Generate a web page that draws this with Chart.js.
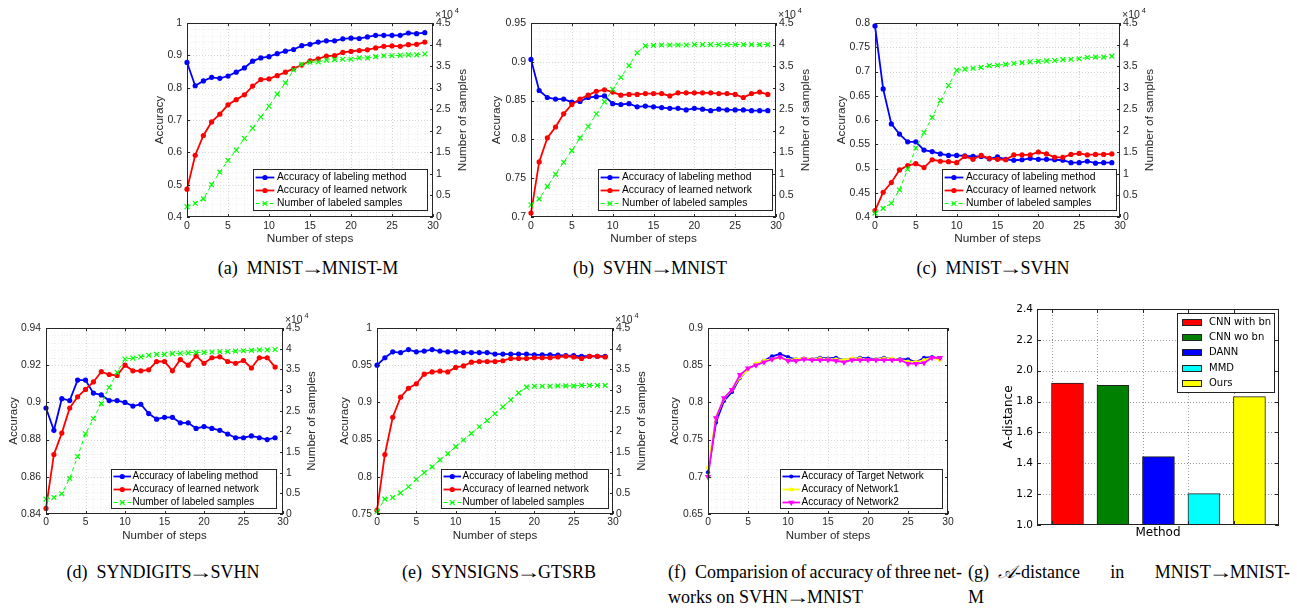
<!DOCTYPE html>
<html><head><meta charset="utf-8">
<script src="https://cdn.jsdelivr.net/npm/chart.js@4.4.1/dist/chart.umd.min.js"></script>
<style>
html,body{margin:0;padding:0;background:#fff;width:1297px;height:608px;overflow:hidden;position:relative}
canvas{position:absolute}
.cap{position:absolute;font-family:'Liberation Serif','Times New Roman',serif;font-size:18px;line-height:22px;color:#000;white-space:nowrap}
.ctr{width:300px;text-align:center}
.ar{display:inline-block;width:19px;text-align:center;transform:scaleX(1.35)}
.j{display:inline-block}
</style></head><body>
<div class="cap ctr" style="left:158px;top:257px">(a)&ensp;MNIST<span class="ar">→</span>MNIST-M</div>
<div class="cap ctr" style="left:500px;top:257px">(b)&ensp;SVHN<span class="ar">→</span>MNIST</div>
<div class="cap ctr" style="left:843px;top:257px">(c)&ensp;MNIST<span class="ar">→</span>SVHN</div>
<div class="cap ctr" style="left:13px;top:561px">(d)&ensp;SYNDIGITS<span class="ar">→</span>SVHN</div>
<div class="cap ctr" style="left:349px;top:561px">(e)&ensp;SYNSIGNS<span class="ar">→</span>GTSRB</div>
<div class="cap j" data-w="294" style="left:668px;top:561px">(f)&ensp;Comparision of accuracy of three net-</div>
<div class="cap" style="left:668px;top:586px">works on SVHN<span class="ar">→</span>MNIST</div>
<div class="cap j" data-w="322" style="left:968px;top:561px">(g)&ensp;<i>𝒜</i>-distance in MNIST<span class="ar">→</span>MNIST-</div>
<div class="cap" style="left:968px;top:586px">M</div>
<script>
// ---------------- data ----------------
const steps = [0,1,2,3,4,5,6,7,8,9,10,11,12,13,14,15,16,17,18,19,20,21,22,23,24,25,26,27,28,29];
const seriesLabels = ['Accuracy of labeling method','Accuracy of learned network','Number of labeled samples'];
const fLabels = ['Accuracy of Target Network','Accuracy of Network1','Accuracy of Network2'];

const aLabeling = [0.878,0.806,0.821,0.832,0.829,0.836,0.848,0.861,0.882,0.892,0.896,0.905,0.913,0.918,0.930,0.934,0.941,0.945,0.945,0.951,0.953,0.952,0.957,0.962,0.962,0.962,0.962,0.969,0.967,0.970];
const aLearned  = [0.486,0.591,0.652,0.694,0.718,0.747,0.763,0.778,0.805,0.825,0.827,0.837,0.848,0.859,0.870,0.883,0.889,0.898,0.899,0.909,0.912,0.915,0.917,0.923,0.928,0.929,0.928,0.933,0.934,0.941];
const aSamples  = [0.24,0.32,0.42,0.75,1.04,1.31,1.55,1.82,2.06,2.32,2.57,2.85,3.11,3.41,3.54,3.59,3.60,3.64,3.65,3.66,3.66,3.69,3.69,3.72,3.74,3.74,3.75,3.76,3.76,3.78];

const bLabeling = [0.903,0.863,0.854,0.852,0.852,0.848,0.849,0.854,0.855,0.856,0.846,0.845,0.846,0.842,0.843,0.842,0.841,0.840,0.840,0.838,0.840,0.839,0.837,0.839,0.838,0.838,0.838,0.837,0.837,0.837];
const bLearned  = [0.705,0.771,0.802,0.816,0.833,0.845,0.852,0.857,0.862,0.864,0.861,0.857,0.858,0.858,0.859,0.859,0.859,0.856,0.860,0.860,0.860,0.860,0.860,0.859,0.859,0.858,0.854,0.859,0.861,0.858];
const bSamples  = [0.28,0.42,0.71,0.99,1.27,1.54,1.83,2.10,2.39,2.67,2.96,3.24,3.51,3.81,3.97,3.98,3.99,3.99,3.99,3.99,4.00,4.00,4.00,4.00,4.00,4.00,4.00,4.00,4.00,4.00];

const cLabeling = [0.794,0.664,0.592,0.571,0.555,0.555,0.538,0.535,0.530,0.527,0.527,0.526,0.525,0.525,0.520,0.524,0.519,0.517,0.518,0.521,0.519,0.519,0.518,0.517,0.512,0.512,0.515,0.511,0.512,0.512];
const cLearned  = [0.413,0.451,0.471,0.497,0.506,0.510,0.502,0.518,0.515,0.514,0.512,0.525,0.519,0.527,0.521,0.519,0.518,0.528,0.528,0.528,0.534,0.530,0.523,0.523,0.529,0.531,0.528,0.529,0.529,0.530];
const cSamples  = [0.09,0.20,0.32,0.63,1.11,1.60,1.96,2.31,2.70,3.05,3.40,3.43,3.45,3.47,3.51,3.52,3.54,3.56,3.58,3.60,3.61,3.62,3.63,3.65,3.66,3.67,3.70,3.71,3.71,3.73];

const dLabeling = [0.897,0.885,0.902,0.901,0.912,0.912,0.905,0.904,0.901,0.901,0.900,0.898,0.899,0.894,0.891,0.892,0.892,0.889,0.889,0.886,0.887,0.886,0.885,0.883,0.881,0.881,0.882,0.881,0.880,0.881];
const dLearned  = [0.843,0.872,0.8835,0.897,0.903,0.907,0.911,0.9165,0.915,0.9145,0.920,0.917,0.917,0.9175,0.922,0.922,0.917,0.923,0.920,0.925,0.921,0.924,0.9245,0.922,0.921,0.9225,0.9185,0.924,0.924,0.919];
const dSamples  = [0.36,0.40,0.49,0.86,1.39,1.94,2.31,2.67,3.06,3.43,3.75,3.77,3.80,3.84,3.86,3.86,3.88,3.89,3.90,3.91,3.91,3.92,3.93,3.93,3.94,3.95,3.96,3.97,3.97,3.98];

const eLabeling = [0.950,0.960,0.968,0.967,0.971,0.968,0.969,0.971,0.969,0.968,0.968,0.967,0.967,0.967,0.967,0.965,0.965,0.965,0.965,0.965,0.964,0.964,0.964,0.9635,0.963,0.963,0.962,0.962,0.962,0.962];
const eLearned  = [0.755,0.830,0.880,0.907,0.919,0.925,0.938,0.941,0.942,0.941,0.947,0.949,0.954,0.955,0.955,0.955,0.956,0.959,0.959,0.959,0.960,0.960,0.960,0.961,0.962,0.961,0.959,0.962,0.962,0.961];
const eSamples  = [0.06,0.36,0.40,0.51,0.66,0.84,1.00,1.14,1.31,1.46,1.63,1.79,1.95,2.11,2.26,2.43,2.59,2.76,2.93,3.07,3.09,3.09,3.09,3.10,3.10,3.10,3.11,3.11,3.11,3.11];

const fTarget = [0.706,0.773,0.802,0.814,0.833,0.845,0.851,0.856,0.862,0.865,0.861,0.858,0.859,0.858,0.860,0.859,0.860,0.857,0.858,0.860,0.859,0.858,0.860,0.858,0.858,0.858,0.854,0.860,0.861,0.858];
const fNet1   = [0.712,0.780,0.805,0.817,0.834,0.844,0.852,0.856,0.858,0.860,0.857,0.858,0.859,0.858,0.859,0.858,0.858,0.857,0.859,0.859,0.857,0.858,0.859,0.859,0.857,0.855,0.854,0.857,0.860,0.857];
const fNet2   = [0.700,0.779,0.806,0.817,0.837,0.846,0.850,0.854,0.858,0.861,0.856,0.856,0.858,0.857,0.857,0.857,0.856,0.854,0.857,0.857,0.857,0.857,0.857,0.857,0.857,0.852,0.852,0.853,0.860,0.860];

const gMethods = ['CNN with bn','CNN wo bn','DANN','MMD','Ours'];
const gValues  = [1.920,1.905,1.443,1.203,1.832];
const gColors  = ['#ff0000','#008000','#0000ff','#00ffff','#ffff00'];

// ---------------- captions: fit justified first lines ----------------
function fitCaptions(){
  document.querySelectorAll('.j').forEach(el=>{
    el.style.wordSpacing = '0px';
    const target = +el.dataset.w;
    const nat = el.getBoundingClientRect().width;
    const n = (el.textContent.match(/ /g)||[]).length;
    if (n) el.style.wordSpacing = ((target-nat)/n)+'px';
  });
}
fitCaptions();
if (document.fonts && document.fonts.ready) document.fonts.ready.then(fitCaptions);

// ---------------- helpers ----------------
const SANS = "'Liberation Sans', Arial, Helvetica, sans-serif";
const DJV = "'DejaVu Sans', sans-serif";
const INK = '#262626';
const fmt = v => String(parseFloat(Number(v).toFixed(4)));

function mkCanvas(c){
  const el = document.createElement('canvas');
  el.width = c.w; el.height = c.h;
  el.style.left = c.l+'px'; el.style.top = c.t+'px';
  el.style.width = c.w+'px'; el.style.height = c.h+'px';
  document.body.appendChild(el);
  return el;
}
function seg(ctx,x1,y1,x2,y2){ctx.beginPath();ctx.moveTo(x1,y1);ctx.lineTo(x2,y2);ctx.stroke();}
function marker(ctx, ds, x, y){
  const r = ds.pointRadius, st = ds.pointStyle;
  ctx.save(); ctx.setLineDash([]); ctx.translate(x,y);
  ctx.rotate((ds.pointRotation||0)*Math.PI/180);
  ctx.fillStyle = ds.pointBackgroundColor; ctx.strokeStyle = ds.pointBorderColor;
  ctx.lineWidth = ds.pointBorderWidth || 1;
  ctx.beginPath();
  if (st==='circle'){ ctx.arc(0,0,r,0,Math.PI*2); ctx.fill(); }
  else if (st==='crossRot'){ const o=r*Math.SQRT1_2; ctx.moveTo(-o,-o);ctx.lineTo(o,o);ctx.moveTo(-o,o);ctx.lineTo(o,-o);ctx.stroke(); }
  else if (st==='triangle'){ for(let k=0;k<3;k++){const a=k*2*Math.PI/3; const px=Math.sin(a)*r, py=-Math.cos(a)*r; k?ctx.lineTo(px,py):ctx.moveTo(px,py);} ctx.closePath(); ctx.fill(); }
  ctx.restore();
}

const ST = {
  labeling:{color:'#0000ff',width:1.8,point:'circle',r:2.6},
  learned:{color:'#ff0000',width:1.8,point:'circle',r:2.6},
  samples:{color:'#00ff00',width:1,dash:[4,3],point:'crossRot',r:3.4,axis:'y2',pbw:1.2},
  target:{color:'#0000ff',width:1.8,point:'circle',r:2.1},
  net1:{color:'#ffff00',width:1.8,point:'circle',r:2.1},
  net2:{color:'#ff00ff',width:1.8,point:'triangle',rot:180,r:3.6}
};
function ds(label, values, s, n, i){
  return {label, data: values.map((v,k)=>({x:steps[k], y:v})),
    borderColor:s.color, backgroundColor:s.color, borderWidth:s.width, borderDash:s.dash||[],
    pointStyle:s.point, pointRadius:s.r, pointRotation:s.rot||0,
    pointBackgroundColor:s.color, pointBorderColor:s.color, pointBorderWidth:s.pbw||0,
    yAxisID:s.axis||'y', tension:0, fill:false, clip:false, order:n-i};
}

function makeDeco(P){
  return {
    id:'deco',
    beforeDatasetsDraw(chart){
      const {ctx, chartArea:a, scales} = chart;
      const xs = scales.x, ys = scales.y;
      ctx.save(); ctx.lineWidth = 1; ctx.setLineDash([1,2]);
      if (P.minor){
        ctx.strokeStyle = '#ececec';
        const nx = Math.round((xs.max-xs.min)/P.minor[0]);
        for(let i=1;i<nx;i++){const px=Math.round(xs.getPixelForValue(xs.min+i*P.minor[0]))+0.5; seg(ctx,px,a.top,px,a.bottom);}
        const ny = Math.round((ys.max-ys.min)/P.minor[1]);
        for(let i=1;i<ny;i++){const py=Math.round(ys.getPixelForValue(ys.min+i*P.minor[1]))+0.5; seg(ctx,a.left,py,a.right,py);}
      }
      ctx.strokeStyle = P.gridColor || '#d4d4d4';
      xs.ticks.forEach(t=>{const px=Math.round(xs.getPixelForValue(t.value))+0.5; if(px>a.left+1&&px<a.right-1) seg(ctx,px,a.top,px,a.bottom);});
      ys.ticks.forEach(t=>{const py=Math.round(ys.getPixelForValue(t.value))+0.5; if(py>a.top+1&&py<a.bottom-1) seg(ctx,a.left,py,a.right,py);});
      ctx.restore();
    },
    afterDraw(chart){
      const {ctx, chartArea:a, scales} = chart;
      const C = P.canvas;
      ctx.save(); ctx.setLineDash([]); ctx.lineWidth = 1; ctx.strokeStyle = P.axisColor || INK;
      ctx.strokeRect(a.left+0.5, a.top+0.5, a.right-a.left-1, a.bottom-a.top-1);
      const tl = P.tickLen || 3;
      scales.x.ticks.forEach(t=>{const px=Math.round(scales.x.getPixelForValue(t.value))+0.5; seg(ctx,px,a.bottom,px,a.bottom-tl); seg(ctx,px,a.top,px,a.top+tl);});
      scales.y.ticks.forEach(t=>{const py=Math.round(scales.y.getPixelForValue(t.value))+0.5; seg(ctx,a.left,py,a.left+tl,py); if(!scales.y2) seg(ctx,a.right,py,a.right-tl,py);});
      if (scales.y2) scales.y2.ticks.forEach(t=>{const py=Math.round(scales.y2.getPixelForValue(t.value))+0.5; seg(ctx,a.right,py,a.right-tl,py);});
      // exponent label and right title
      if (P.rightTitle){
        ctx.fillStyle = INK; ctx.textBaseline='middle'; ctx.textAlign='left';
        ctx.font = `${P.font.tick}px ${SANS}`;
        const ex = a.right+2, ey = a.top-8;
        ctx.fillText('×10', ex, ey);
        const w = ctx.measureText('×10').width;
        ctx.font = `${P.font.tick*0.72}px ${SANS}`;
        ctx.fillText('4', ex+w+2, ey-4);
        ctx.save(); ctx.translate(P.rightTitleX - C.l, (a.top+a.bottom)/2); ctx.rotate(-Math.PI/2);
        ctx.textAlign='center'; ctx.font = `${P.font.title}px ${SANS}`; ctx.fillText(P.rightTitle,0,0); ctx.restore();
      }
      // legend
      const L = P.legend;
      const lx = L.l - C.l, ly = L.t - C.t;
      ctx.fillStyle = '#fff'; ctx.fillRect(lx,ly,L.w,L.h);
      ctx.strokeStyle = INK; ctx.lineWidth=1; ctx.strokeRect(lx+0.5,ly+0.5,L.w-1,L.h-1);
      chart.data.datasets.forEach((d,i)=>{
        const y = Math.round(ly + L.y0 + i*L.dy)+0.5;
        ctx.strokeStyle = d.borderColor; ctx.lineWidth = d.borderWidth; ctx.setLineDash(d.borderDash||[]);
        seg(ctx, lx+L.sx, y, lx+L.sx+L.sl, y);
        marker(ctx, d, lx+L.sx+L.sl/2, y);
        ctx.fillStyle = '#000'; ctx.font = `${L.font}px ${SANS}`; ctx.textAlign='left'; ctx.textBaseline='middle';
        ctx.fillText(d.label, lx+L.tx, y);
      });
      ctx.restore();
    }
  };
}

function lineChart(P){
  const C = P.canvas, A = P.plot, F = P.font;
  const cv = mkCanvas(C);
  const lh = F.title*1.2;
  const tickFont = {family:SANS, size:F.tick};
  const titleFont = {family:SANS, size:F.title, lineHeight:1.2};
  const scales = {
    x:{type:'linear', min:0, max:30,
      ticks:{stepSize:5, padding:P.xPad, font:tickFont, color:INK, maxRotation:0, autoSkip:false, callback:fmt},
      grid:{display:false, drawTicks:false}, border:{display:false},
      title:{display:true, text:'Number of steps', font:titleFont, color:INK, padding:{top:0, bottom:C.t+C.h-P.xTitleY-lh/2}},
      afterFit:s=>{s.height = C.t+C.h-A.b;}},
    y:{type:'linear', position:'left', min:P.yr[0], max:P.yr[1],
      ticks:{stepSize:P.yr[2], padding:5, font:tickFont, color:INK, callback:fmt},
      grid:{display:false, drawTicks:false}, border:{display:false},
      title:{display:true, text:'Accuracy', font:titleFont, color:INK, padding:{top:P.yTitleX-C.l-lh/2, bottom:0}},
      afterFit:s=>{s.width = A.l-C.l;}}
  };
  if (P.rightTitle){
    scales.y2 = {type:'linear', position:'right', min:0, max:4.5,
      ticks:{stepSize:0.5, padding:3, font:tickFont, color:INK, callback:fmt},
      grid:{display:false, drawTicks:false}, border:{display:false},
      afterFit:s=>{s.width = C.l+C.w-A.r;}};
  }
  new Chart(cv, {
    type:'line',
    data:{datasets:P.datasets},
    options:{
      animation:false, responsive:false, devicePixelRatio:1, events:[],
      layout:{autoPadding:false, padding:{top:A.t-C.t, left:0, bottom:0, right:P.rightTitle?0:(C.l+C.w-A.r)}},
      plugins:{legend:{display:false}, tooltip:{enabled:false}},
      scales
    },
    plugins:[makeDeco(P)]
  });
}

function trio(lab, lrn, smp){
  return [ds(seriesLabels[0],lab,ST.labeling,3,0), ds(seriesLabels[1],lrn,ST.learned,3,1), ds(seriesLabels[2],smp,ST.samples,3,2)];
}
const F1 = {tick:10.5, title:11.8};
const F2 = {tick:10.3, title:11.5};
const L1 = {y0:7.7, dy:13.2, sx:2.6, sl:18.7, tx:24, font:10.3};
const L2 = {y0:6.5, dy:13.3, sx:2.5, sl:17.5, tx:21.5, font:10};

lineChart({canvas:{l:140,t:0,w:340,h:250}, plot:{l:187,t:23,r:433,b:217}, yr:[0.4,1,0.1], minor:[1,0.02],
  datasets:trio(aLabeling,aLearned,aSamples), font:F1, xPad:3, xTitleY:239, yTitleX:160, rightTitle:'Number of samples', rightTitleX:463,
  legend:Object.assign({l:253,t:169,w:175,h:42},L1)});
lineChart({canvas:{l:480,t:0,w:350,h:250}, plot:{l:531,t:23,r:776,b:217}, yr:[0.7,0.95,0.05], minor:[1,0.01],
  datasets:trio(bLabeling,bLearned,bSamples), font:F1, xPad:3, xTitleY:239, yTitleX:497, rightTitle:'Number of samples', rightTitleX:806,
  legend:Object.assign({l:598,t:169,w:175,h:42},L1)});
lineChart({canvas:{l:830,t:0,w:350,h:250}, plot:{l:875,t:23,r:1120,b:217}, yr:[0.4,0.8,0.05], minor:[1,0.01],
  datasets:trio(cLabeling,cLearned,cSamples), font:F1, xPad:3, xTitleY:239, yTitleX:842, rightTitle:'Number of samples', rightTitleX:1150,
  legend:Object.assign({l:942,t:169,w:175,h:42},L1)});
lineChart({canvas:{l:0,t:295,w:330,h:250}, plot:{l:46,t:328,r:283,b:514}, yr:[0.84,0.94,0.02], minor:[1,0.004],
  datasets:trio(dLabeling,dLearned,dSamples), font:F2, xPad:2, xTitleY:536, yTitleX:13.5, rightTitle:'Number of samples', rightTitleX:312,
  legend:Object.assign({l:111,t:469,w:166,h:40},L2)});
lineChart({canvas:{l:330,t:295,w:330,h:250}, plot:{l:377,t:328,r:613,b:514}, yr:[0.75,1,0.05], minor:[1,0.01],
  datasets:trio(eLabeling,eLearned,eSamples), font:F2, xPad:2, xTitleY:536, yTitleX:345, rightTitle:'Number of samples', rightTitleX:642,
  legend:Object.assign({l:441,t:469,w:168,h:40},L2)});
lineChart({canvas:{l:660,t:295,w:300,h:250}, plot:{l:708,t:328,r:948,b:514}, yr:[0.65,0.9,0.05], minor:[1,0.01],
  datasets:[ds(fLabels[0],fTarget,ST.target,3,0), ds(fLabels[1],fNet1,ST.net1,3,1), ds(fLabels[2],fNet2,ST.net2,3,2)],
  font:F2, xPad:2, xTitleY:536, yTitleX:675,
  legend:Object.assign({l:780,t:469,w:163,h:40},L2)});

// ---------------- panel g (bar chart) ----------------
(function(){
  const C = {l:960,t:295,w:337,h:250}, A = {l:1037,t:309,r:1279,b:525};
  const cv = mkCanvas(C);
  const lh = 12*1.2;
  const deco = {
    id:'gdeco',
    beforeDatasetsDraw(chart){
      const {ctx, chartArea:a, scales} = chart;
      ctx.save(); ctx.lineWidth=1; ctx.setLineDash([1,2]); ctx.strokeStyle='#9a9a9a';
      scales.x.ticks.forEach(t=>{const px=Math.round(scales.x.getPixelForValue(t.value))+0.5; seg(ctx,px,a.top,px,a.bottom);});
      scales.y.ticks.forEach(t=>{const py=Math.round(scales.y.getPixelForValue(t.value))+0.5; if(py>a.top+1&&py<a.bottom-1) seg(ctx,a.left,py,a.right,py);});
      ctx.restore();
    },
    afterDraw(chart){
      const {ctx, chartArea:a, scales} = chart;
      ctx.save(); ctx.setLineDash([]); ctx.lineWidth=1; ctx.strokeStyle='#222';
      ctx.strokeRect(a.left+0.5,a.top+0.5,a.right-a.left-1,a.bottom-a.top-1);
      scales.y.ticks.forEach(t=>{const py=Math.round(scales.y.getPixelForValue(t.value))+0.5; seg(ctx,a.left,py,a.left+4,py); seg(ctx,a.right,py,a.right-4,py);});
      scales.x.ticks.forEach(t=>{const px=Math.round(scales.x.getPixelForValue(t.value))+0.5; seg(ctx,px,a.bottom,px,a.bottom-4); seg(ctx,px,a.top,px,a.top+4);});
      // legend
      const lx = 1177-C.l, ly = 313-C.t, lw = 98, lhh = 80;
      ctx.fillStyle='#fff'; ctx.fillRect(lx,ly,lw,lhh);
      ctx.strokeStyle='#222'; ctx.strokeRect(lx+0.5,ly+0.5,lw-1,lhh-1);
      chart.data.datasets.forEach((d,i)=>{
        const y = ly + 9.3 + i*15.25;
        ctx.fillStyle = d.backgroundColor; ctx.fillRect(lx+5, Math.round(y-3.5), 20, 7);
        ctx.strokeStyle = '#222'; ctx.strokeRect(lx+5.5, Math.round(y-3.5)+0.5, 19, 6);
        ctx.fillStyle='#000'; ctx.font=`10px ${DJV}`; ctx.textAlign='left'; ctx.textBaseline='middle';
        ctx.fillText(d.label, lx+32, y);
      });
      ctx.restore();
    }
  };
  new Chart(cv, {
    type:'bar',
    data:{datasets: gMethods.map((m,i)=>({label:m, data:[{x:i, y:gValues[i]}], backgroundColor:gColors[i],
      borderColor:'#222', borderWidth:1, borderSkipped:false, barThickness:32, grouped:false}))},
    options:{
      animation:false, responsive:false, devicePixelRatio:1, events:[],
      layout:{autoPadding:false, padding:{top:A.t-C.t, left:0, bottom:0, right:C.l+C.w-A.r}},
      plugins:{legend:{display:false}, tooltip:{enabled:false}},
      scales:{
        x:{type:'linear', min:-0.67, max:4.65, offset:false,
          afterBuildTicks:s=>{s.ticks = gMethods.map((m,i)=>({value:i-0.35}));},
          ticks:{display:false}, grid:{display:false, drawTicks:false}, border:{display:false},
          title:{display:true, text:'Method', font:{family:DJV,size:12,lineHeight:1.2}, color:'#000', padding:{top:0,bottom:C.t+C.h-533-lh/2}},
          afterFit:s=>{s.height = C.t+C.h-A.b;}},
        y:{type:'linear', min:1, max:2.4,
          ticks:{stepSize:0.2, padding:4, font:{family:DJV,size:10.5}, color:'#000', callback:v=>Number(v).toFixed(1)},
          grid:{display:false, drawTicks:false}, border:{display:false},
          title:{display:true, text:'A-distance', font:{family:DJV,size:12,lineHeight:1.2}, color:'#000', padding:{top:1009-C.l-lh/2,bottom:0}},
          afterFit:s=>{s.width = A.l-C.l;}}
      }
    },
    plugins:[deco]
  });
})();
</script>
</body></html>
